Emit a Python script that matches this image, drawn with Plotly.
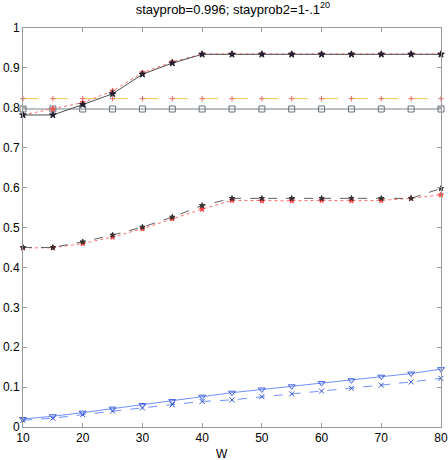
import plotly.graph_objects as go

W = [10, 15, 20, 25, 30, 35, 40, 45, 50, 55, 60, 65, 70, 75, 80]

top_black = [0.782, 0.782, 0.808, 0.835, 0.884, 0.912, 0.934, 0.934, 0.934, 0.934, 0.934, 0.934, 0.934, 0.934, 0.934]
top_red = [0.782, 0.797, 0.813, 0.842, 0.888, 0.915, 0.935, 0.935, 0.935, 0.935, 0.935, 0.935, 0.935, 0.935, 0.935]
flat_gray = [0.797] * 15
flat_orange = [0.823] * 15
mid_black = [0.450, 0.450, 0.464, 0.481, 0.501, 0.526, 0.555, 0.573, 0.573, 0.573, 0.573, 0.573, 0.573, 0.573, 0.598]
mid_red = [0.449, 0.449, 0.460, 0.476, 0.497, 0.522, 0.546, 0.568, 0.567, 0.567, 0.568, 0.567, 0.568, 0.573, 0.582]
low_solid = [0.020, 0.027, 0.036, 0.046, 0.055, 0.065, 0.076, 0.086, 0.094, 0.102, 0.110, 0.117, 0.126, 0.134, 0.145]
low_dash = [0.017, 0.022, 0.031, 0.040, 0.048, 0.056, 0.064, 0.068, 0.076, 0.083, 0.090, 0.097, 0.105, 0.113, 0.122]

FONT = "Liberation Sans, Arial"

fig = go.Figure()

def add(y, color, dash, symbol, mcolor, msize=5, width=1):
    fig.add_trace(go.Scatter(
        x=W, y=y, mode="lines+markers", cliponaxis=False,
        line=dict(color=color, dash=dash, width=width),
        marker=dict(symbol=symbol, size=msize, color=mcolor, line=dict(color=mcolor, width=1)),
        showlegend=False))

add(flat_orange, "#f8c850", "longdash", "cross-thin-open", "#e87060", 4)
add(flat_gray, "#7a828a", "solid", "square-open", "#6a727a", 6)
add(top_red, "#ff7070", "dot", "star", "#e85050", 4)
add(top_black, "#505050", "solid", "star", "#202030", 5)
add(mid_red, "#ff7070", "dot", "star", "#ff4040", 4)
add(mid_black, "#606060", "dash", "star", "#303030", 4)
add(low_dash, "#7090ff", "dash", "x-thin-open", "#3050d0", 5)
add(low_solid, "#7090ff", "solid", "triangle-down-open", "#4060e0", 6)

axis_common = dict(showgrid=False, zeroline=False, showline=True, linecolor="#999999",
                   mirror="ticks", ticks="inside", ticklen=4, tickcolor="#999999",
                   automargin=False, ticklabeloverflow="allow",
                   tickfont=dict(family=FONT, size=12, color="black"))

fig.update_xaxes(range=[10, 80], tickvals=[10, 20, 30, 40, 50, 60, 70, 80], **axis_common)
fig.update_yaxes(range=[0, 1], tickvals=[0, 0.1, 0.2, 0.3, 0.4, 0.5, 0.6, 0.7, 0.8, 0.9, 1],
                 ticktext=["0", "0.1", "0.2", "0.3", "0.4", "0.5", "0.6", "0.7", "0.8", "0.9", "1"],
                 ticklabelstandoff=0, **axis_common)

fig.add_annotation(text="W", xref="paper", yref="paper", x=0.475, y=-0.045,
                   xanchor="center", yanchor="top", showarrow=False,
                   font=dict(family=FONT, size=12, color="black"))

fig.update_layout(
    width=448, height=460,
    margin=dict(l=23, r=7, t=28, b=33, autoexpand=False),
    paper_bgcolor="white", plot_bgcolor="white",
    title=dict(text="stayprob=0.996; stayprob2=1-.1<sup>20</sup>", x=0.52, xanchor="center",
               y=0.99, yanchor="top",
               font=dict(family=FONT, size=13, color="black")),
)

fig.write_html("out.html", config={"displayModeBar": False},
               post_script="document.body.style.margin='0';")
